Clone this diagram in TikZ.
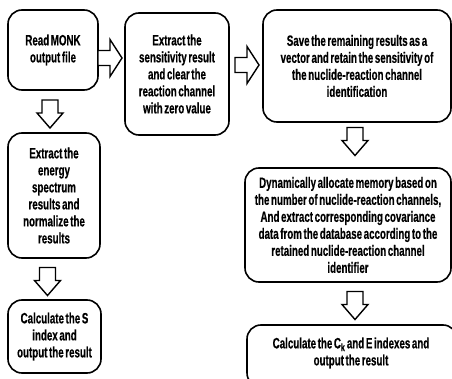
\documentclass[tikz,border=0pt]{standalone}
\usepackage{fontspec}
\setmainfont[FakeStretch=0.65, WordSpace=0.6, BoldFeatures={FakeBold=0.4}]{Liberation Sans}
\begin{document}
\begin{tikzpicture}[x=1pt,y=-1pt,
  box/.style={draw, line width=1.6pt, rounded corners=14pt, inner sep=0pt,
    font=\fontsize{15}{17}\selectfont\bfseries, align=center},
  barrow/.style={draw, line width=1.4pt, fill=white, line join=miter},
  rarrow/.pic={\draw[barrow] (-12,-7.5) -- (0,-7.5) -- (0,-18.5) -- (12,0) -- (0,18.5) -- (0,7.5) -- (-12,7.5) -- cycle;},
  darrow/.pic={\draw[barrow] (-8,-14) -- (8,-14) -- (8,-1) -- (13,-1) -- (0,14) -- (-13,-1) -- (-8,-1) -- cycle;}]
\fill[white] (0,0) rectangle (452,379);
\clip (0,0) rectangle (452,379);
\node[box, minimum width=90pt, minimum height=80pt] (a) at (53,50) {Read MONK\\output file};
\node[box, minimum width=104pt, minimum height=122pt] (b) at (177,74) {Extract the\\sensitivity result\\and clear the\\reaction channel\\with zero value};
\node[box, minimum width=188pt, minimum height=112pt] (c) at (357,66) {Save the remaining results as a\\vector and retain the sensitivity of\\the nuclide-reaction channel\\identification};
\node[box, minimum width=92pt, minimum height=125pt] (d) at (54,195.5) {Extract the\\energy\\spectrum\\results and\\normalize the\\results};
\node[box, minimum width=93pt, minimum height=73pt] (e) at (54.5,336.5) {Calculate the S\\index and\\output the result};
\node[box, minimum width=206pt, minimum height=114pt] (f) at (348,225) {Dynamically allocate memory based on\\the number of nuclide-reaction channels,\\And extract corresponding covariance\\data from the database according to the\\retained nuclide-reaction channel\\identifier};
\node[box, minimum width=210pt, minimum height=62pt] (g) at (352,356) {};
\node[font=\fontsize{15}{17}\selectfont\bfseries, align=center, inner sep=0pt] (gt) at (351,353) {Calculate the C\textsubscript{k} and E indexes and\\output the result};
\pic at (110,58) {rarrow};
\pic at (247,65) {rarrow};
\pic at (50,114) {darrow};
\pic at (355,141.5) {darrow};
\pic at (47.5,281.5) {darrow};
\pic at (355,305.5) {darrow};
\end{tikzpicture}
\end{document}
